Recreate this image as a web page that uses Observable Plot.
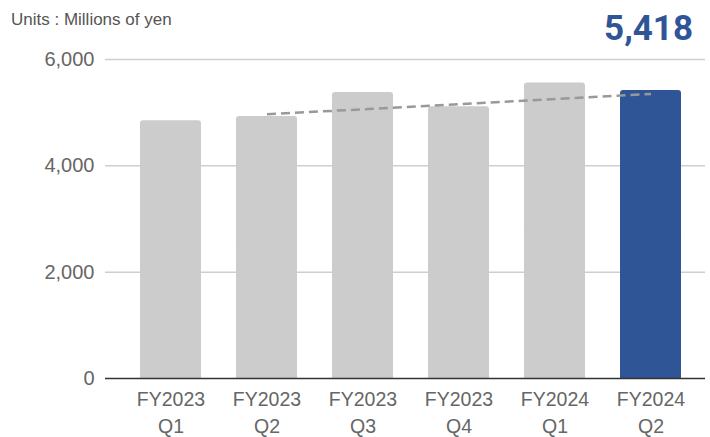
<!DOCTYPE html>
<html>
<head>
<meta charset="utf-8">
<script src="https://cdn.jsdelivr.net/npm/d3@7"></script>
<script src="https://cdn.jsdelivr.net/npm/@observablehq/plot@0.6"></script>
<style>
  html, body { margin: 0; padding: 0; background: #fff; }
  #wrap { position: relative; width: 710px; height: 437px; }
  #unit { position: absolute; left: 11px; top: 10px; font: 17px "Liberation Sans", Arial, sans-serif; color: #555; }
  #big { position: absolute; right: 17px; top: 8px; font: bold 35px Roboto, sans-serif; color: #2f5597; }
</style>
</head>
<body>
<div id="wrap">
  <div id="chart"></div>
  <div id="unit">Units : Millions of yen</div>
  <div id="big">5,418</div>
</div>
<script>
const categories = ["FY2023 Q1", "FY2023 Q2", "FY2023 Q3", "FY2023 Q4", "FY2024 Q1", "FY2024 Q2"];
const values = [4850, 4930, 5380, 5110, 5560, 5418];
const highlight = "FY2024 Q2";
const yTicks = [0, 2000, 4000, 6000];
const trendFrom = "FY2023 Q2";
const trendTo = "FY2024 Q2";
const trendValues = [4969, 5351];

const data = categories.map((c, i) => ({cat: c, value: values[i]}));
const trend = [{x1: trendFrom, x2: trendTo, y1: trendValues[0], y2: trendValues[1]}];

const chart = Plot.plot({
  width: 710,
  height: 437,
  marginTop: 59,
  marginBottom: 59,
  marginLeft: 105,
  marginRight: 5,
  style: {fontFamily: "'Liberation Sans', Arial, sans-serif", background: "#fff", overflow: "visible"},
  x: {domain: categories, range: [122, 698], paddingInner: 0.365, paddingOuter: 0.1825, label: null},
  y: {domain: [0, 6000], label: null},
  marks: [
    Plot.ruleY(yTicks.filter(d => d > 0), {stroke: "#cfcfcf", strokeWidth: 1.5}),
    Plot.barY(data, {x: "cat", y: "value", fill: d => d.cat === highlight ? "#2f5597" : "#cccccc", rx: 3}),
    Plot.barY(data, {x: "cat", y1: 0, y2: d => d.value / 2, fill: d => d.cat === highlight ? "#2f5597" : "#cccccc"}),
    Plot.ruleY([0], {stroke: "#333", strokeWidth: 1.5}),
    Plot.link(trend, {x1: "x1", x2: "x2", y1: "y1", y2: "y2", stroke: "#999", strokeWidth: 2.5, strokeDasharray: "9,5"}),
    Plot.axisY({ticks: yTicks, tickFormat: d3.format(","), tickSize: 0, tickPadding: 11, fontSize: 20, color: "#666", label: null}),
    Plot.axisX({tickSize: 0, tickPadding: 9, fontSize: 19.5, lineHeight: 1.36, color: "#666", tickFormat: d => d.replace(" ", "\n"), label: null})
  ]
});
document.getElementById("chart").appendChild(chart);
</script>
</body>
</html>
